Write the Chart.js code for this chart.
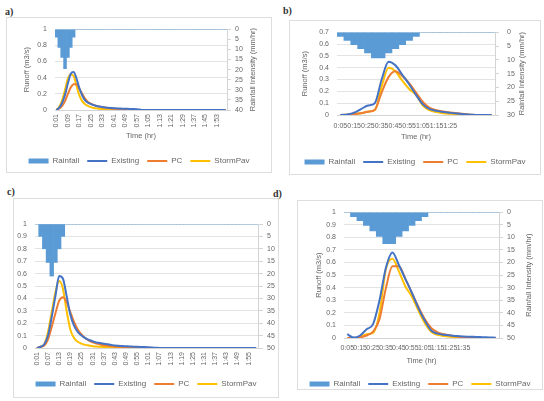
<!DOCTYPE html>
<html>
<head>
<meta charset="utf-8">
<script src="https://cdn.jsdelivr.net/npm/chart.js@4.4.0/dist/chart.umd.min.js"></script>
<style>
  body { margin: 0; background: #fff; width: 544px; height: 401px; position: relative; overflow: hidden; }
  .box { position: absolute; border: 1px solid #dedede; box-sizing: border-box; }
  .tag { position: absolute; font: bold 10px 'Liberation Serif', serif; color: #333; }
  canvas { position: absolute; }
</style>
</head>
<body>
<div class="box" style="left:6px;top:17px;width:266px;height:156px"></div>
<div class="box" style="left:289px;top:20px;width:252px;height:155px"></div>
<div class="box" style="left:13px;top:198px;width:266px;height:200px"></div>
<div class="box" style="left:297px;top:200px;width:246px;height:190px"></div>
<div class="tag" style="left:5px;top:6px">a)</div>
<div class="tag" style="left:283px;top:5px">b)</div>
<div class="tag" style="left:7px;top:186px">c)</div>
<div class="tag" style="left:273px;top:188px">d)</div>
<canvas id="chartA" width="266" height="158" style="left:6px;top:17px"></canvas>
<canvas id="chartB" width="252" height="156" style="left:289px;top:20px"></canvas>
<canvas id="chartC" width="266" height="200" style="left:13px;top:198px"></canvas>
<canvas id="chartD" width="246" height="198" style="left:297px;top:200px"></canvas>
<script>
// time axis for a) and c): 2-minute steps
const timeAC = ['0:01','0:03','0:05','0:07','0:09','0:11','0:13','0:15','0:17','0:19',
  '0:21','0:23','0:25','0:27','0:29','0:31','0:33','0:35','0:37','0:39',
  '0:41','0:43','0:45','0:47','0:49','0:51','0:53','0:55','0:57','0:59',
  '1:01','1:03','1:05','1:07','1:09','1:11','1:13','1:15','1:17','1:19',
  '1:21','1:23','1:25','1:27','1:29','1:31','1:33','1:35','1:37','1:39',
  '1:41','1:43','1:45','1:47','1:49','1:51','1:53','1:55','1:57','1:59'];
// time axis for b) and d): 5-minute steps
const timeB = ['0:05','0:10','0:15','0:20','0:25','0:30','0:35','0:40','0:45','0:50',
  '0:55','1:00','1:05','1:10','1:15','1:20','1:25','1:30','1:35','1:40','1:45','1:50','1:55'];
const timeD = ['0:05','0:10','0:15','0:20','0:25','0:30','0:35','0:40','0:45','0:50',
  '0:55','1:00','1:05','1:10','1:15','1:20','1:25','1:30','1:35','1:40','1:45','1:50','1:55','2:00'];

// a)
const rainA = [4, 9, 14, 19.5, 14, 9, 4, 0, 0, 0,
  0, 0, 0, 0, 0, 0, 0, 0, 0, 0, 0, 0, 0, 0, 0, 0, 0, 0, 0, 0,
  0, 0, 0, 0, 0, 0, 0, 0, 0, 0, 0, 0, 0, 0, 0, 0, 0, 0, 0, 0,
  0, 0, 0, 0, 0, 0, 0, 0, 0, 0];
const existingA = [0, 0.03, 0.09, 0.19, 0.33, 0.45, 0.47, 0.39, 0.27, 0.18,
  0.12, 0.09, 0.075, 0.06, 0.05, 0.043, 0.037, 0.032, 0.028, 0.025,
  0.022, 0.02, 0.018, 0.016, 0.015, 0.014, 0.013, 0.012, 0.01, 0.005,
  0, 0, 0, 0, 0, 0, 0, 0, 0, 0, 0, 0, 0, 0, 0, 0, 0, 0, 0, 0,
  0, 0, 0, 0, 0, 0, 0, 0, 0, 0];
const pcA = [0, 0.02, 0.05, 0.11, 0.2, 0.28, 0.32, 0.32, 0.26, 0.2,
  0.14, 0.1, 0.08, 0.06, 0.05, 0.042, 0.035, 0.03, 0.025, 0.02,
  0.017, 0.014, 0.012, 0.01, 0.008, 0.006, 0.004, 0.002, 0, 0,
  0, 0, 0, 0, 0, 0, 0, 0, 0, 0, 0, 0, 0, 0, 0, 0, 0, 0, 0, 0,
  0, 0, 0, 0, 0, 0, 0, 0, 0, 0];
const stormPavA = [0, 0.04, 0.12, 0.25, 0.39, 0.44, 0.42, 0.3, 0.18, 0.11,
  0.07, 0.05, 0.035, 0.025, 0.02, 0.015, 0.012, 0.01, 0.008, 0.006,
  0.004, 0.002, 0, 0, 0, 0, 0, 0, 0, 0,
  0, 0, 0, 0, 0, 0, 0, 0, 0, 0, 0, 0, 0, 0, 0, 0, 0, 0, 0, 0,
  0, 0, 0, 0, 0, 0, 0, 0, 0, 0];

// b)
const rainB = [1.5, 3, 4.5, 6, 7.5, 9.3, 9.3, 7.5, 6, 4.5, 3, 1.5, 0, 0, 0, 0, 0, 0, 0, 0, 0, 0, 0];
const existingB = [0, 0.005, 0.02, 0.05, 0.08, 0.1, 0.3, 0.45, 0.42, 0.34, 0.26, 0.17, 0.09, 0.05, 0.035, 0.025, 0.018, 0.012, 0.007, 0.003, 0, 0, 0];
const pcB = [0, 0.003, 0.008, 0.015, 0.028, 0.045, 0.19, 0.32, 0.37, 0.33, 0.27, 0.19, 0.11, 0.06, 0.04, 0.03, 0.022, 0.015, 0.008, 0.003, 0, 0, 0];
const stormPavB = [0, 0.002, 0.008, 0.015, 0.028, 0.04, 0.24, 0.4, 0.37, 0.29, 0.22, 0.17, 0.08, 0.04, 0.025, 0.015, 0.01, 0.006, 0.003, 0, 0, 0, 0];

// c)
const rainC = [0, 5, 10, 15.5, 21, 15.5, 10, 5, 0, 0,
  0, 0, 0, 0, 0, 0, 0, 0, 0, 0, 0, 0, 0, 0, 0, 0, 0, 0, 0, 0,
  0, 0, 0, 0, 0, 0, 0, 0, 0, 0, 0, 0, 0, 0, 0, 0, 0, 0, 0, 0,
  0, 0, 0, 0, 0, 0, 0, 0, 0, 0];
const existingC = [0, 0.01, 0.03, 0.1, 0.25, 0.42, 0.58, 0.56, 0.42, 0.27,
  0.18, 0.13, 0.1, 0.08, 0.065, 0.055, 0.045, 0.04, 0.035, 0.03,
  0.025, 0.02, 0.018, 0.016, 0.014, 0.012, 0.011, 0.01, 0.009, 0.008,
  0.006, 0.004, 0.002, 0, 0, 0, 0, 0, 0, 0, 0, 0, 0, 0, 0, 0, 0, 0, 0, 0,
  0, 0, 0, 0, 0, 0, 0, 0, 0, 0];
const pcC = [0, 0.01, 0.02, 0.07, 0.17, 0.28, 0.38, 0.41, 0.37, 0.29,
  0.21, 0.15, 0.11, 0.08, 0.06, 0.045, 0.035, 0.028, 0.022, 0.018,
  0.015, 0.012, 0.01, 0.009, 0.008, 0.007, 0.006, 0.005, 0.004, 0.003,
  0.002, 0, 0, 0, 0, 0, 0, 0, 0, 0, 0, 0, 0, 0, 0, 0, 0, 0, 0, 0,
  0, 0, 0, 0, 0, 0, 0, 0, 0, 0];
const stormPavC = [0, 0.01, 0.03, 0.13, 0.29, 0.45, 0.54, 0.48, 0.3, 0.15,
  0.08, 0.05, 0.035, 0.025, 0.02, 0.015, 0.012, 0.01, 0.008, 0.006,
  0.005, 0.004, 0.003, 0.002, 0, 0, 0, 0, 0, 0,
  0, 0, 0, 0, 0, 0, 0, 0, 0, 0, 0, 0, 0, 0, 0, 0, 0, 0, 0, 0,
  0, 0, 0, 0, 0, 0, 0, 0, 0, 0];

// d)
const rainD = [0, 1.8, 3.4, 5.3, 7.4, 9.6, 12.5, 12.5, 9.6, 7.4, 5.3, 3.4, 1.8, 0, 0, 0, 0, 0, 0, 0, 0, 0, 0, 0];
const existingD = [0.03, 0.003, 0.02, 0.07, 0.11, 0.3, 0.56, 0.68, 0.58, 0.47, 0.36, 0.24, 0.14, 0.06, 0.035, 0.025, 0.02, 0.015, 0.012, 0.01, 0.008, 0.006, 0.004, 0.002];
const pcD = [0, 0, 0.005, 0.02, 0.05, 0.15, 0.4, 0.57, 0.57, 0.47, 0.36, 0.25, 0.15, 0.08, 0.045, 0.03, 0.02, 0.012, 0.006, 0.002, 0, 0, 0, 0];
const stormPavD = [0, 0, 0.01, 0.03, 0.04, 0.2, 0.55, 0.63, 0.53, 0.41, 0.33, 0.22, 0.12, 0.05, 0.025, 0.015, 0.01, 0.005, 0, 0, 0, 0, 0, 0];

const seriesNames = ['Rainfall', 'Existing', 'PC', 'StormPav'];
const seriesColors = ['#5B9BD5', '#4472C4', '#ED7D31', '#FFC000'];

const FONT = "'Liberation Sans', sans-serif";
const TEXT = '#666';
const GRID = '#e3e3e3';

// draws the right-hand axis title reading bottom-to-top, like Excel
const rightTitle = {
  id: 'rightTitle',
  afterDraw(chart, args, o) {
    if (!o.text) return;
    const { ctx, chartArea } = chart;
    ctx.save();
    ctx.translate(o.x, (chartArea.top + chartArea.bottom) / 2);
    ctx.rotate(-Math.PI / 2);
    ctx.font = '7.5px ' + FONT;
    ctx.fillStyle = TEXT;
    ctx.textAlign = 'center';
    ctx.textBaseline = 'middle';
    ctx.fillText(o.text, 0, 0);
    ctx.restore();
  }
};

function makeChart(id, p) {
  const ctx = document.getElementById(id).getContext('2d');
  const values = [p.rain, p.existing, p.pc, p.stormPav];
  const datasets = values.map((data, k) => k === 0 ? {
    type: 'bar', label: seriesNames[k], data: data, yAxisID: 'y2',
    backgroundColor: seriesColors[k], borderWidth: 0,
    barPercentage: 1, categoryPercentage: 1
  } : {
    type: 'line', label: seriesNames[k], data: data, yAxisID: 'y',
    borderColor: seriesColors[k], backgroundColor: seriesColors[k],
    borderWidth: 2, pointRadius: 0, pointStyle: 'line',
    cubicInterpolationMode: 'monotone', fill: false
  });

  return new Chart(ctx, {
    data: { labels: p.labels, datasets: datasets },
    plugins: [rightTitle],
    options: {
      responsive: false, animation: false, devicePixelRatio: 1,
      layout: { padding: { top: p.top, left: 0, right: 0, bottom: 0 } },
      plugins: {
        tooltip: { enabled: false },
        rightTitle: { text: p.rightTitle, x: p.rightTitleX },
        legend: {
          position: 'bottom',
          labels: {
            font: { family: FONT, size: 8 }, color: TEXT,
            usePointStyle: true, pointStyleWidth: 20, boxHeight: 5, padding: 8,
            generateLabels(chart) {
              const items = Chart.defaults.plugins.legend.labels.generateLabels(chart);
              items.forEach((it, k) => {
                it.pointStyle = k === 0 ? 'rect' : 'line';
                it.lineWidth = k === 0 ? 0 : 2;
                it.strokeStyle = seriesColors[k];
                it.fillStyle = seriesColors[k];
              });
              return items;
            }
          }
        }
      },
      scales: {
        x: {
          afterFit: s => { s.height = p.xHeight; },
          grid: { display: false, drawTicks: false },
          border: { display: true, color: '#d4d4d4' },
          ticks: {
            autoSkip: false, minRotation: p.rotate, maxRotation: p.rotate, padding: p.xPad,
            font: { family: FONT, size: 7 }, color: TEXT,
            callback: (v, i) => (i % p.every === 0 && i <= p.lastLabel) ? p.labels[i] : ''
          },
          title: {
            display: !!p.xTitle, text: p.xTitle, color: TEXT,
            font: { family: FONT, size: 7.5 }, padding: { top: 0, bottom: p.xTitlePad }
          }
        },
        y: {
          position: 'left', min: 0, max: p.yMax,
          afterFit: s => { s.width = p.left; },
          grid: { color: GRID, drawTicks: false },
          border: { display: false },
          ticks: {
            stepSize: p.yStep, autoSkip: false, padding: 8,
            font: { family: FONT, size: 7 }, color: TEXT,
            callback: v => String(+v.toFixed(2))
          },
          title: {
            display: !!p.yTitle, text: p.yTitle, color: TEXT,
            font: { family: FONT, size: 7.5 }, padding: { top: p.yTitlePad, bottom: 0 }
          }
        },
        y2: {
          position: 'right', reverse: true, min: 0, max: p.rainMax,
          afterFit: s => { s.width = p.right; },
          grid: { drawOnChartArea: false, color: '#d4d4d4', tickLength: p.tickLen },
          border: { display: true, color: '#d4d4d4' },
          ticks: {
            stepSize: 5, autoSkip: false, padding: p.rPad,
            font: { family: FONT, size: 7 }, color: TEXT
          }
        }
      }
    }
  });
}

makeChart('chartA', {
  labels: timeAC, rain: rainA, existing: existingA, pc: pcA, stormPav: stormPavA,
  yMax: 1, yStep: 0.2, rainMax: 40, every: 4, lastLabel: 59, rotate: 90,
  top: 11, left: 49, right: 45, xHeight: 39, xPad: 4, tickLen: 4, rPad: 4,
  xTitle: 'Time (hr)', xTitlePad: 8.5, yTitle: 'Runoff (m3/s)', yTitlePad: 16.5,
  rightTitle: 'Rainfall Intensity (mm/hr)', rightTitleX: 247
});

makeChart('chartB', {
  labels: timeB, rain: rainB, existing: existingB, pc: pcB, stormPav: stormPavB,
  yMax: 0.7, yStep: 0.1, rainMax: 30, every: 2, lastLabel: 16, rotate: 0,
  top: 12, left: 48, right: 46, xHeight: 35, xPad: 7, tickLen: 4, rPad: 8,
  xTitle: 'Time (hr)', xTitlePad: 8.5, yTitle: 'Runoff (m3/s)', yTitlePad: 11,
  rightTitle: 'Rainfall Intensity (mm/hr)', rightTitleX: 233
});

makeChart('chartC', {
  labels: timeAC, rain: rainC, existing: existingC, pc: pcC, stormPav: stormPavC,
  yMax: 1, yStep: 0.1, rainMax: 50, every: 3, lastLabel: 59, rotate: 90,
  top: 26, left: 22, right: 21, xHeight: 24, xPad: 4, tickLen: 5, rPad: 4,
  xTitle: '', xTitlePad: 0, yTitle: '', yTitlePad: 0,
  rightTitle: '', rightTitleX: 0
});

makeChart('chartD', {
  labels: timeD, rain: rainD, existing: existingD, pc: pcD, stormPav: stormPavD,
  yMax: 1, yStep: 0.1, rainMax: 50, every: 2, lastLabel: 18, rotate: 0,
  top: 9, left: 47, right: 44, xHeight: 34, xPad: 6, tickLen: 4, rPad: 4,
  xTitle: 'Time (hr)', xTitlePad: 6.5, yTitle: 'Runoff (m3/s)', yTitlePad: 17,
  rightTitle: 'Rainfall Intensity (mm/hr)', rightTitleX: 232
});
</script>
</body>
</html>
